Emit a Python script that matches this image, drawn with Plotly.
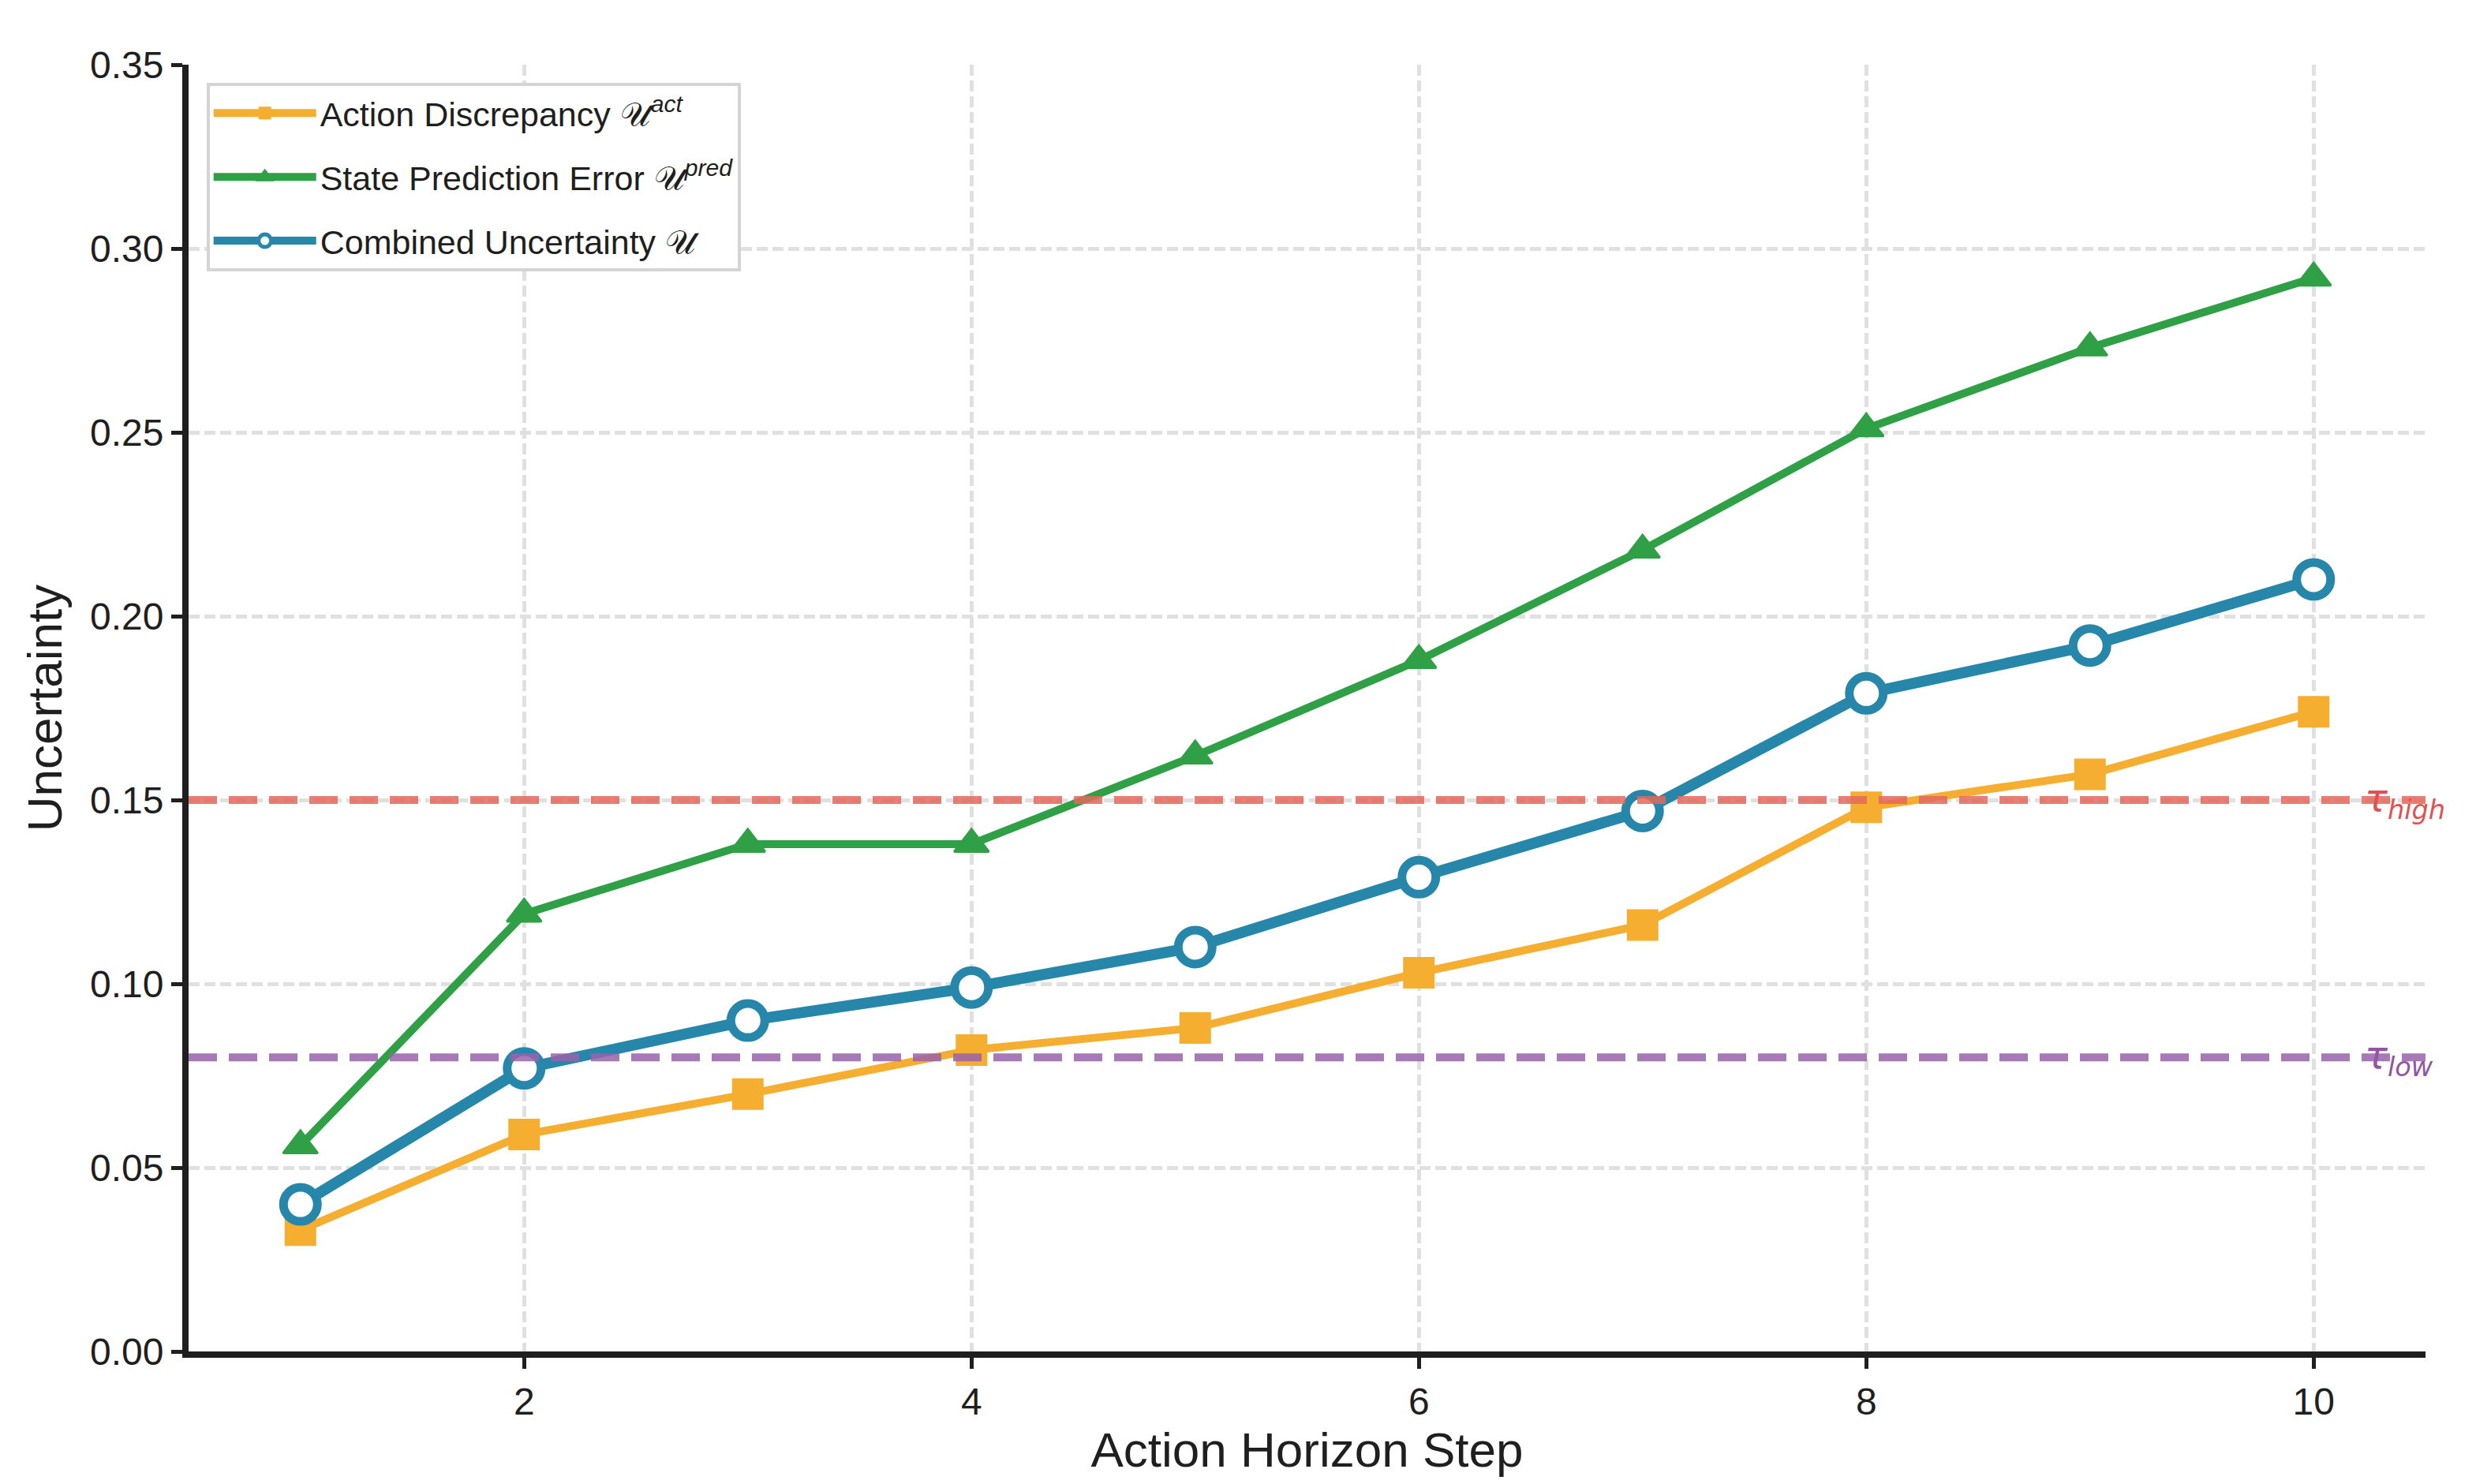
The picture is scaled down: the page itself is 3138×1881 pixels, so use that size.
import plotly.graph_objects as go

# data
steps = [1, 2, 3, 4, 5, 6, 7, 8, 9, 10]
u_act = [0.033, 0.059, 0.070, 0.082, 0.088, 0.103, 0.116, 0.148, 0.157, 0.174]
u_pred = [0.056, 0.119, 0.138, 0.138, 0.162, 0.188, 0.218, 0.251, 0.273, 0.292]
u_comb = [0.040, 0.077, 0.090, 0.099, 0.110, 0.129, 0.147, 0.179, 0.192, 0.210]
tau_high = 0.15
tau_low = 0.08
x_ticks = [2, 4, 6, 8, 10]
y_ticks = [0.0, 0.05, 0.10, 0.15, 0.20, 0.25, 0.30, 0.35]

INK = "#1f1f1f"
ORANGE = "#f5ae2f"
GREEN = "#30a046"
BLUE = "#2787aa"

fig = go.Figure()

fig.add_trace(go.Scatter(
    x=steps, y=u_act, mode="lines+markers", legendgroup="a",
    name="Action Discrepancy 𝒰<sup><i>act</i></sup>",
    line=dict(color=ORANGE, width=10),
    marker=dict(symbol="square", size=40, color=ORANGE),
))
fig.add_trace(go.Scatter(
    x=steps, y=u_pred, mode="lines+markers", legendgroup="b",
    name="State Prediction Error 𝒰<sup><i>pred</i></sup>",
    line=dict(color=GREEN, width=10),
    marker=dict(symbol="triangle-up", size=38, color=GREEN,
                line=dict(color=GREEN, width=3)),
))
fig.add_trace(go.Scatter(
    x=steps, y=u_comb, mode="lines+markers", legendgroup="c",
    name="Combined Uncertainty 𝒰",
    line=dict(color=BLUE, width=14),
    marker=dict(symbol="circle", size=43, color="white",
                line=dict(color=BLUE, width=11)),
))

# threshold lines, drawn over the data like in the original
fig.add_hline(y=tau_high, line=dict(color="#e4695c", width=10, dash="36px,15px"),
              opacity=0.85, layer="above")
fig.add_hline(y=tau_low, line=dict(color="#9a62ab", width=10, dash="36px,15px"),
              opacity=0.85, layer="above")

fig.add_annotation(x=10.22, y=tau_high, xanchor="left", yanchor="middle",
                   text="<i>τ<sub>high</sub></i>", showarrow=False,
                   font=dict(family="DejaVu Sans", size=48, color="#e05252"))
fig.add_annotation(x=10.22, y=tau_low, xanchor="left", yanchor="middle",
                   text="<i>τ<sub>low</sub></i>", showarrow=False,
                   font=dict(family="DejaVu Sans", size=48, color="#9254a3"))

axis_style = dict(
    showline=True, linecolor=INK, linewidth=8, mirror=False,
    ticks="outside", ticklen=14, tickwidth=5, tickcolor=INK,
    tickfont=dict(size=48, color=INK),
    showgrid=True, gridcolor="#e0e0e0", gridwidth=5, griddash="14px,6px",
    zeroline=False,
)
fig.update_xaxes(
    range=[0.5, 10.5], tickvals=x_ticks,
    title=dict(text="Action Horizon Step", font=dict(size=62, color=INK), standoff=4),
    **axis_style,
)
fig.update_yaxes(
    range=[0, 0.35], tickvals=y_ticks, tickformat=".2f",
    title=dict(text="Uncertainty", font=dict(size=62, color=INK), standoff=18),
    **axis_style,
)

fig.update_layout(
    width=3138, height=1881,
    margin=dict(l=231, r=72, t=74, b=176),
    paper_bgcolor="white", plot_bgcolor="white",
    font=dict(family="Liberation Sans, Arial, sans-serif", color=INK),
    showlegend=True,
    legend=dict(
        x=0.008, y=0.986, xanchor="left", yanchor="top",
        bgcolor="white", bordercolor="#d4d4d4", borderwidth=4,
        font=dict(size=43, color=INK),
        itemwidth=130, tracegroupgap=22,
    ),
)

fig.write_html("out.html")
